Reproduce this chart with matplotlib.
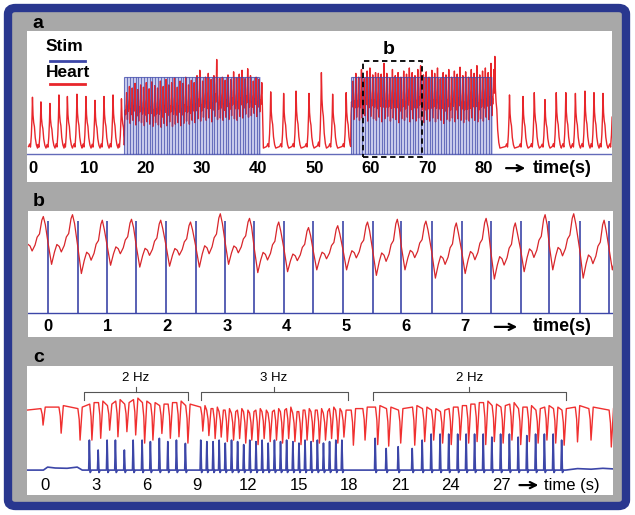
import numpy as np
import matplotlib.pyplot as plt
from matplotlib.patches import FancyBboxPatch, Rectangle

plt.rcParams['font.family'] = ['Liberation Sans', 'DejaVu Sans']

# ---------------- data ----------------
# panel a : spontaneous beats (time s, peak height in stim units)
PRE_T = [-0.1, 1.4, 3.0, 4.6, 6.1, 7.8, 9.4, 11.0, 12.6, 14.2, 15.7]
PRE_P = [0.74, 0.68, 0.66, 0.77, 0.75, 0.78, 0.75, 0.70, 0.75, 0.77, 0.72]
MID_T = [42.2, 44.5, 46.7, 49.0, 51.2, 53.2, 55.6]
MID_P = [0.81, 0.79, 0.82, 0.79, 1.06, 0.78, 0.80]
POST_T = [82.0, 84.6, 87.0, 89.0, 90.9, 92.9, 94.6, 96.3, 98.0, 99.6, 101.2, 102.9]
POST_P = [1.27, 0.77, 0.75, 0.80, 0.71, 0.80, 0.80, 0.79, 0.82, 0.80, 0.79, 0.75]

# panel a : stimulation blocks (start s, number of pulses), 2 Hz
STIM_A_BLOCKS = [(16.2, 49), (56.4, 51)]
STIM_A_PERIOD = 0.5
# heart during block 1 / block 2, one value per paced cycle
A1_PEAK = [0.80, 0.88, 0.86, 0.92, 0.84, 0.90, 0.87, 0.93, 0.85, 0.94, 0.89, 0.86,
           0.95, 0.88, 0.97, 0.90, 0.93, 0.99, 0.87, 0.95, 0.92, 1.00, 0.90, 0.96,
           0.93, 1.02, 1.09, 0.95, 1.00, 1.05, 0.97, 1.02, 1.23, 0.98, 1.00, 0.96,
           1.03, 0.97, 1.07, 0.99, 1.04, 1.09, 0.98, 1.11, 1.02, 0.95, 1.00, 0.97, 0.93]
A1_TROUGH = [0.42, 0.45, 0.40, 0.44, 0.38, 0.43, 0.41, 0.37, 0.42, 0.39, 0.36, 0.41,
             0.38, 0.35, 0.40, 0.37, 0.42, 0.36, 0.39, 0.41, 0.37, 0.40, 0.43, 0.39,
             0.44, 0.41, 0.46, 0.43, 0.48, 0.44, 0.47, 0.42, 0.49, 0.45, 0.47, 0.44,
             0.48, 0.45, 0.50, 0.46, 0.44, 0.49, 0.47, 0.52, 0.48, 0.50, 0.53, 0.49, 0.55]
A2_PEAK = [0.95, 1.05, 1.00, 1.10, 0.98, 1.08, 1.12, 1.03, 1.06, 1.05, 1.04, 1.18,
           1.05, 0.99, 1.10, 1.02, 1.06, 1.00, 1.08, 1.04, 1.12, 1.06, 1.02, 1.10,
           1.15, 1.03, 1.07, 1.00, 1.09, 1.05, 1.12, 0.98, 1.06, 1.03, 1.10, 1.00,
           1.08, 1.04, 1.13, 1.02, 1.07, 1.00, 1.10, 1.05, 1.15, 1.03, 1.08, 1.12,
           1.06, 1.18, 1.10]
A2_TROUGH = [0.50, 0.45, 0.48, 0.44, 0.47, 0.50, 0.43, 0.49, 0.46, 0.44, 0.48, 0.42,
             0.46, 0.49, 0.43, 0.47, 0.45, 0.41, 0.46, 0.44, 0.48, 0.42, 0.46, 0.43,
             0.47, 0.44, 0.41, 0.45, 0.43, 0.47, 0.42, 0.46, 0.44, 0.40, 0.45, 0.43,
             0.47, 0.42, 0.46, 0.44, 0.41, 0.45, 0.43, 0.47, 0.44, 0.42, 0.46, 0.43,
             0.48, 0.45, 0.50]
A_TICKS = [0, 10, 20, 30, 40, 50, 60, 70, 80]

# panel b : zoom 58.9-68.4 s
STIM_B_T = [0.0, 0.50, 0.99, 1.48, 1.98, 2.48, 2.97, 3.46, 3.96, 4.45,
            4.95, 5.45, 5.93, 6.44, 6.94, 7.43, 7.93, 8.41, 8.92, 9.41]
B_PEAK = [1.05, 1.07, 1.01, 1.02, 1.01, 0.99, 1.08, 1.03, 0.99, 0.93, 0.95,
          0.99, 1.02, 1.00, 0.98, 1.03, 0.98, 1.07, 1.08, 1.01, 1.00]
B_TROUGH = [0.55, 0.53, 0.43, 0.52, 0.50, 0.51, 0.50, 0.53, 0.44, 0.45, 0.47,
            0.47, 0.41, 0.47, 0.38, 0.43, 0.37, 0.45, 0.47, 0.38, 0.47]
B_TICKS = [0, 1, 2, 3, 4, 5, 6, 7]

# panel c : stimulation pulses (time s, height)
STIM_C_T = [2.62, 3.14, 3.67, 4.16, 4.69, 5.21, 5.74, 6.23, 6.76, 7.26, 7.77, 8.30,
            9.21, 9.57, 9.94, 10.30, 10.66, 11.03, 11.39, 11.75, 12.11, 12.48, 12.84, 13.20,
            13.57, 13.93, 14.29, 14.66, 15.02, 15.38, 15.74, 16.11, 16.47, 16.83, 17.20, 17.56,
            19.53, 20.18, 20.89, 21.72, 22.31, 22.84, 23.37, 23.88, 24.41, 24.91, 25.41,
            25.92, 26.43, 26.95, 27.47, 27.99, 28.50, 29.02, 29.54, 30.06, 30.56]
STIM_C_H = [1.0, 0.67, 1.0, 1.0, 0.67, 1.0, 1.0, 0.95, 1.06, 0.95, 1.0, 0.89,
            1.0, 0.95, 0.95, 1.0, 0.9, 1.0, 0.95, 0.85, 1.0, 0.95, 1.0, 0.9,
            1.0, 0.95, 1.0, 0.95, 0.9, 1.0, 0.95, 1.0, 0.9, 0.95, 1.0, 1.0,
            1.06, 0.72, 0.78, 0.72, 1.0, 1.2, 1.2, 1.2, 1.2, 1.2, 1.2,
            1.2, 1.1, 1.2, 1.2, 1.1, 1.15, 1.2, 1.2, 1.2, 1.0]
BASE_C_T = [-1.07, -0.1, 0.15, 0.6, 1.3, 1.9, 2.2, 30.8, 31.5, 32.3, 33.0, 33.6]
BASE_C_V = [0.0, 0.0, 0.10, 0.07, 0.06, 0.10, 0.0, 0.0, 0.05, 0.03, 0.06, 0.04]
# panel c : heart dips (time s, bottom, level before the dip)
DIP_C_T = [-0.12, 0.95, 2.07,
           2.77, 3.29, 3.82, 4.31, 4.84, 5.36, 5.89, 6.38, 6.91, 7.41, 7.92, 8.45,
           9.33, 9.69, 10.06, 10.42, 10.78, 11.15, 11.51, 11.87, 12.23, 12.60, 12.96, 13.32,
           13.69, 14.05, 14.41, 14.78, 15.14, 15.50, 15.86, 16.23, 16.59, 16.95, 17.32, 17.68,
           18.24, 18.93,
           19.68, 20.33, 21.04, 21.87, 22.46, 22.99, 23.52, 24.03, 24.56, 25.06, 25.56,
           26.07, 26.58, 27.10, 27.62, 28.14, 28.65, 29.17, 29.69, 30.21, 30.71,
           31.5, 32.3, 33.5]
DIP_C_D = [1.5, 1.23, 1.0,
           1.0, 1.06, 1.33, 1.11, 1.28, 1.17, 0.9, 1.0, 1.22, 1.06, 1.11, 0.9,
           1.3, 1.15, 1.05, 1.1, 0.95, 1.0, 1.05, 0.9, 1.0, 0.85, 1.05, 0.95,
           1.0, 0.9, 1.05, 0.95, 0.85, 1.0, 0.95, 0.9, 1.0, 1.05, 0.9, 1.1,
           0.83, 1.0,
           0.85, 0.8, 0.9, 0.83, 0.95, 1.0, 0.9, 0.85, 1.0, 0.9, 0.95,
           0.85, 0.95, 0.9, 1.0, 0.85, 0.95, 0.9, 1.0, 0.9, 0.83,
           0.94, 1.0, 0.77]
DIP_C_TOP = [2.05, 2.1, 2.05,
             2.2, 2.25, 2.15, 2.3, 2.2, 2.35, 2.25, 2.2, 2.15, 2.2, 2.25, 2.15,
             2.1, 2.0, 2.05, 1.95, 2.0, 1.9, 2.0, 1.95, 1.9, 2.0, 1.95, 1.9,
             2.0, 1.95, 2.05, 1.9, 1.95, 2.0, 1.95, 2.0, 1.9, 2.05, 2.0, 1.95,
             2.0, 2.05,
             2.1, 2.05, 2.0, 2.1, 2.05, 2.0, 1.95, 2.05, 2.1, 2.15, 2.2,
             2.25, 2.15, 2.1, 2.2, 2.05, 2.1, 2.0, 2.1, 2.05, 2.0,
             2.1, 2.05, 2.0]
C_TICKS = [0, 3, 6, 9, 12, 15, 18, 21, 24, 27]
BRACKETS = [(2.3, 8.46, '2 Hz'), (9.2, 17.9, '3 Hz'), (19.4, 30.8, '2 Hz')]

# ---------------- beat shapes ----------------
BASE_A = 0.08
SPONT_DT = [-0.7, -0.5, -0.35, -0.2, -0.08, 0.0, 0.1, 0.22, 0.35, 0.5, 0.7, 0.9]
SPONT_F = [0.03, 0.08, 0.02, 0.25, 0.6, 1.0, 0.65, 0.5, 0.42, 0.2, 0.06, 0.0]
CYCLE_PH = [0.12, 0.22, 0.30, 0.38, 0.45, 0.55, 0.62, 0.70, 0.78, 0.83, 0.90]
CYCLE_F = [0.0, 0.25, 0.40, 0.36, 0.25, 0.38, 0.55, 0.62, 0.92, 1.0, 0.82]

RED = '#e8262b'
BLUE = '#3c46a8'
NAVY = '#29378f'
GRAY = '#a8a8a8'


def spont_points(times, peaks, t0, t1, lead=None):
    xs, ys = [], []
    if lead is not None:
        xs.append(lead)
        ys.append(BASE_A)
    for tp, pk in zip(times, peaks):
        for dt, f in zip(SPONT_DT, SPONT_F):
            t = tp + dt
            if t0 <= t <= t1 and (not xs or t > xs[-1]):
                xs.append(t)
                ys.append(BASE_A + f * (pk - BASE_A))
    return xs, ys


def driven_points(starts, troughs, peaks, period, v0):
    xs, ys = [], []
    prev = None
    for s, tr, pk in zip(starts, troughs, peaks):
        xs.append(s)
        ys.append(v0 if prev is None else tr + 0.45 * (prev - tr))
        for ph, f in zip(CYCLE_PH, CYCLE_F):
            xs.append(s + ph * period)
            ys.append(tr + f * (pk - tr))
        prev = pk
    return xs, ys


def arrow_label(ax, x0, x1, xt, y, text, weight, size):
    ax.annotate('', xy=(x1, y), xytext=(x0, y),
                arrowprops=dict(arrowstyle='->', lw=1.6, color='black', mutation_scale=11))
    ax.text(xt, y, text, ha='left', va='center', fontsize=size, fontweight=weight)


W, H = 635, 515
fig = plt.figure(figsize=(W / 100, H / 100), dpi=100, facecolor='white')

frame = FancyBboxPatch((8 / W, 1 - 506 / H), 618 / W, 498 / H,
                       boxstyle='round,pad=0,rounding_size=0.012',
                       transform=fig.transFigure, facecolor=GRAY,
                       edgecolor=NAVY, lw=6, zorder=-10)
fig.patches.append(frame)


def panel(x0, y0, x1, y1):
    ax = fig.add_axes([x0 / W, 1 - y1 / H, (x1 - x0) / W, (y1 - y0) / H])
    ax.set_facecolor('white')
    ax.set_xticks([])
    ax.set_yticks([])
    for s in ax.spines.values():
        s.set_visible(False)
    return ax


# ---------------- panel a ----------------
axa = panel(27, 31, 612, 182)
axa.set_xlim(-1.07, 102.8)
axa.set_ylim(-0.36, 1.60)

xs, ys = spont_points(PRE_T, PRE_P, -1.3, 16.2)
blocks = []
for start, n in STIM_A_BLOCKS:
    blocks.append(start + STIM_A_PERIOD * np.arange(n))
bx, by = driven_points(blocks[0], A1_TROUGH, A1_PEAK, STIM_A_PERIOD, 0.12)
xs += bx; ys += by
mx, my = spont_points(MID_T, MID_P, 40.9, 56.4, lead=40.9)
xs += mx; ys += my
bx, by = driven_points(blocks[1], A2_TROUGH, A2_PEAK, STIM_A_PERIOD, 0.10)
xs += bx; ys += by
px_, py_ = spont_points(POST_T, POST_P, 81.85, 104)
xs += px_; ys += py_

for st in blocks:
    axa.fill_between([st[0], st[-1] + 0.2], 0, 1, color='#cdd0ee', lw=0, zorder=1)
axa.plot(xs, ys, color=RED, lw=1.0, zorder=2)
for st in blocks:
    axa.vlines(st, 0, 1, color=BLUE, lw=0.8, alpha=0.7, zorder=3)
    axa.hlines(1, st[0], st[-1], color=BLUE, lw=0.8, alpha=0.7, zorder=3)
axa.axhline(0, color=BLUE, lw=1.0, alpha=0.8, zorder=3)

axa.add_patch(Rectangle((58.6, -0.04), 10.5, 1.25, fill=False, ec='black',
                        lw=1.3, ls=(0, (3, 2)), zorder=4))
axa.text(63.2, 1.36, 'b', ha='center', va='center', fontsize=14, fontweight='bold')

axa.text(2.3, 1.40, 'Stim', ha='left', va='center', fontsize=12.5, fontweight='bold')
axa.plot([3.0, 9.2], [1.21, 1.21], color=BLUE, lw=2)
axa.text(2.3, 1.06, 'Heart', ha='left', va='center', fontsize=12.5, fontweight='bold')
axa.plot([3.0, 9.2], [0.91, 0.91], color=RED, lw=2)

for t in A_TICKS:
    axa.text(t, -0.18, str(t), ha='center', va='center', fontsize=12, fontweight='bold')
arrow_label(axa, 83.5, 87.9, 88.8, -0.18, 'time(s)', 'bold', 13)

# ---------------- panel b ----------------
axb = panel(28, 211, 613, 337)
axb.set_xlim(-0.336, 9.48)
axb.set_ylim(-0.26, 1.11)
axb.axhline(0, color=BLUE, lw=1.0)
axb.vlines(STIM_B_T, 0, 1, color=BLUE, lw=1.2)
hx, hy = driven_points([-0.49] + STIM_B_T, B_TROUGH, B_PEAK, 0.495, 0.62)
axb.plot(hx, hy, color='#d8262b', lw=0.9)
for t in B_TICKS:
    axb.text(t, -0.15, str(t), ha='center', va='center', fontsize=12, fontweight='bold')
arrow_label(axb, 7.45, 7.92, 8.14, -0.15, 'time(s)', 'bold', 13)

# ---------------- panel c ----------------
axc = panel(27, 366, 613, 495)
axc.set_xlim(-1.07, 33.6)
axc.set_ylim(-0.83, 3.47)

pts = list(zip(BASE_C_T, BASE_C_V))
for t, h in zip(STIM_C_T, STIM_C_H):
    pts += [(t - 0.04, 0.0), (t, h), (t + 0.05, -0.08), (t + 0.12, 0.0)]
pts.sort()
axc.plot([p[0] for p in pts], [p[1] for p in pts], color=BLUE, lw=1.2)

cx, cy = [-1.07], [2.0]
for t, d, top in zip(DIP_C_T, DIP_C_D, DIP_C_TOP):
    cx += [t - 0.13, t - 0.05, t, t + 0.06, t + 0.13]
    cy += [top, top - 0.35 * (top - d), d, d + 0.5 * (top - d), top + 0.05]
axc.plot(cx, cy, color='#f03030', lw=1.0)

for t0, t1, lab in BRACKETS:
    mid = (t0 + t1) / 2
    axc.plot([t0, t0, t1, t1], [2.33, 2.6, 2.6, 2.33], color='#555555', lw=0.8)
    axc.plot([mid, mid], [2.6, 2.77], color='#555555', lw=0.8)
    axc.text(mid, 3.07, lab, ha='center', va='center', fontsize=9.5)

for t in C_TICKS:
    axc.text(t, -0.5, str(t), ha='center', va='center', fontsize=12)
arrow_label(axc, 27.9, 29.35, 29.5, -0.5, 'time (s)', 'normal', 12)

# panel letters
for lab, (px, py) in zip('abc', [(38, 23), (39, 201), (39, 357)]):
    fig.text(px / W, 1 - py / H, lab, ha='center', va='center',
             fontsize=14, fontweight='bold')

fig.savefig('out.png', dpi=100, facecolor='white')
